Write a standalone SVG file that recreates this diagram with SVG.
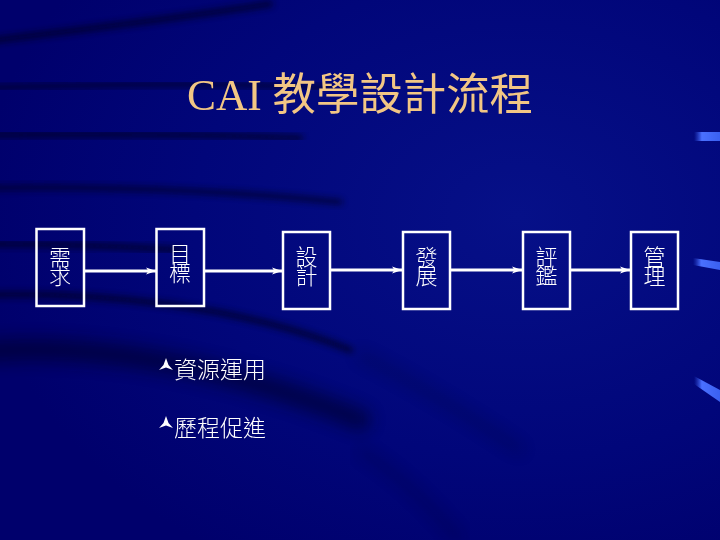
<svg xmlns="http://www.w3.org/2000/svg" width="720" height="540" viewBox="0 0 720 540">
<defs>
<radialGradient id="bg" cx="0.72" cy="0.4" r="0.75">
<stop offset="0" stop-color="#061088"/>
<stop offset="0.6" stop-color="#01067A"/>
<stop offset="1" stop-color="#00006C"/>
</radialGradient>
<linearGradient id="lb" x1="0" y1="0" x2="1" y2="0">
<stop offset="0" stop-color="#3050E0" stop-opacity="0"/>
<stop offset="0.3" stop-color="#4A70FF"/>
<stop offset="1" stop-color="#3A60F0"/>
</linearGradient>
<filter id="blur" x="-10%" y="-50%" width="120%" height="200%"><feGaussianBlur stdDeviation="3"/></filter>
<filter id="blur2" x="-10%" y="-50%" width="120%" height="200%"><feGaussianBlur stdDeviation="8"/></filter>
<marker id="arr" markerWidth="12" markerHeight="10" refX="10" refY="5" orient="auto" markerUnits="userSpaceOnUse">
<path d="M0,1.5 L10,5 L0,8.5 L2.5,5 Z" fill="#FFFFFF"/>
</marker>
<style>
.box{fill:none;stroke:#FFFFFF;stroke-width:2.5}
.bt{font-family:"Noto Sans CJK TC","Noto Sans CJK SC",sans-serif;font-size:22px;font-weight:300;fill:#FFFFFF;text-anchor:middle;writing-mode:vertical-rl;letter-spacing:-3px}
.con{stroke:#FFFFFF;stroke-width:3;fill:none;marker-end:url(#arr)}
.bul{font-family:"Noto Sans CJK TC","Noto Sans CJK SC",sans-serif;font-size:23px;font-weight:300;fill:#FFFFFF;dominant-baseline:central}
.streak{fill:none;stroke:#000020;stroke-linecap:round}
</style>
</defs>
<rect width="720" height="540" fill="url(#bg)"/>
<g id="background-streaks" opacity="0.75">
<path class="streak" d="M-20,42 C80,30 180,18 270,4" stroke-width="6" filter="url(#blur)"/>
<path class="streak" d="M-20,88 C100,84 220,82 330,88" stroke-width="5" filter="url(#blur)"/>
<path class="streak" d="M-20,135 C100,134 200,134 300,138" stroke-width="6" filter="url(#blur)"/>
<path class="streak" d="M-20,188 C100,186 220,190 340,202" stroke-width="5" filter="url(#blur)"/>
<path class="streak" d="M-20,244 C60,244 120,246 180,250" stroke-width="6" filter="url(#blur)"/>
<path class="streak" d="M-20,295 C100,292 240,305 350,350" stroke-width="6" filter="url(#blur)"/>
<path class="streak" d="M-20,352 C80,342 220,362 360,420" stroke-width="22" filter="url(#blur2)" opacity="0.7"/>
<path class="streak" d="M360,355 C410,380 460,410 520,450" stroke-width="7" filter="url(#blur2)" opacity="0.4"/>
<path class="streak" d="M360,450 C400,475 430,505 460,540" stroke-width="7" filter="url(#blur2)" opacity="0.4"/>
</g>
<g id="light-streaks">
<path d="M694,132 L720,132 L720,141 L694,141 Z" fill="url(#lb)"/>
<path d="M693,258 L720,262 L720,270 L693,265 Z" fill="url(#lb)"/>
<path d="M694,376 L720,390 L720,402 L694,384 Z" fill="url(#lb)"/>
</g>
<text id="title" x="187" y="110" textLength="346" lengthAdjust="spacingAndGlyphs" font-family="'Liberation Serif','Noto Sans CJK TC',serif" font-size="44" fill="#F2C684">CAI 教學設計流程</text>
<g id="connectors">
<line class="con" x1="85" y1="271" x2="156" y2="271"/>
<line class="con" x1="205" y1="271" x2="282" y2="271"/>
<line class="con" x1="331" y1="270" x2="402" y2="270"/>
<line class="con" x1="451" y1="270" x2="522" y2="270"/>
<line class="con" x1="571" y1="270" x2="630" y2="270"/>
</g>
<g id="node-needs">
<rect class="box" x="36.5" y="229" width="47.5" height="77"/>
<text class="bt" x="60" y="265">需求</text>
</g>
<g id="node-objectives">
<rect class="box" x="156.5" y="229" width="47.5" height="77"/>
<text class="bt" x="180" y="262">目標</text>
</g>
<g id="node-design">
<rect class="box" x="283" y="232" width="47" height="77"/>
<text class="bt" x="306.5" y="265">設計</text>
</g>
<g id="node-development">
<rect class="box" x="403" y="232" width="47" height="77"/>
<text class="bt" x="426.5" y="265">發展</text>
</g>
<g id="node-evaluation">
<rect class="box" x="523" y="232" width="47" height="77"/>
<text class="bt" x="546.5" y="265">評鑑</text>
</g>
<g id="node-management">
<rect class="box" x="631" y="232" width="47" height="77"/>
<text class="bt" x="654.5" y="265">管理</text>
</g>
<g id="bullets">
<path d="M166,358 L168.5,365 L173,370 L166,367.5 L159,370 L163.5,365 Z" fill="#FFFFFF"/>
<text class="bul" x="174" y="368">資源運用</text>
<path d="M166,416 L168.5,423 L173,428 L166,425.5 L159,428 L163.5,423 Z" fill="#FFFFFF"/>
<text class="bul" x="174" y="426">歷程促進</text>
</g>
</svg>
